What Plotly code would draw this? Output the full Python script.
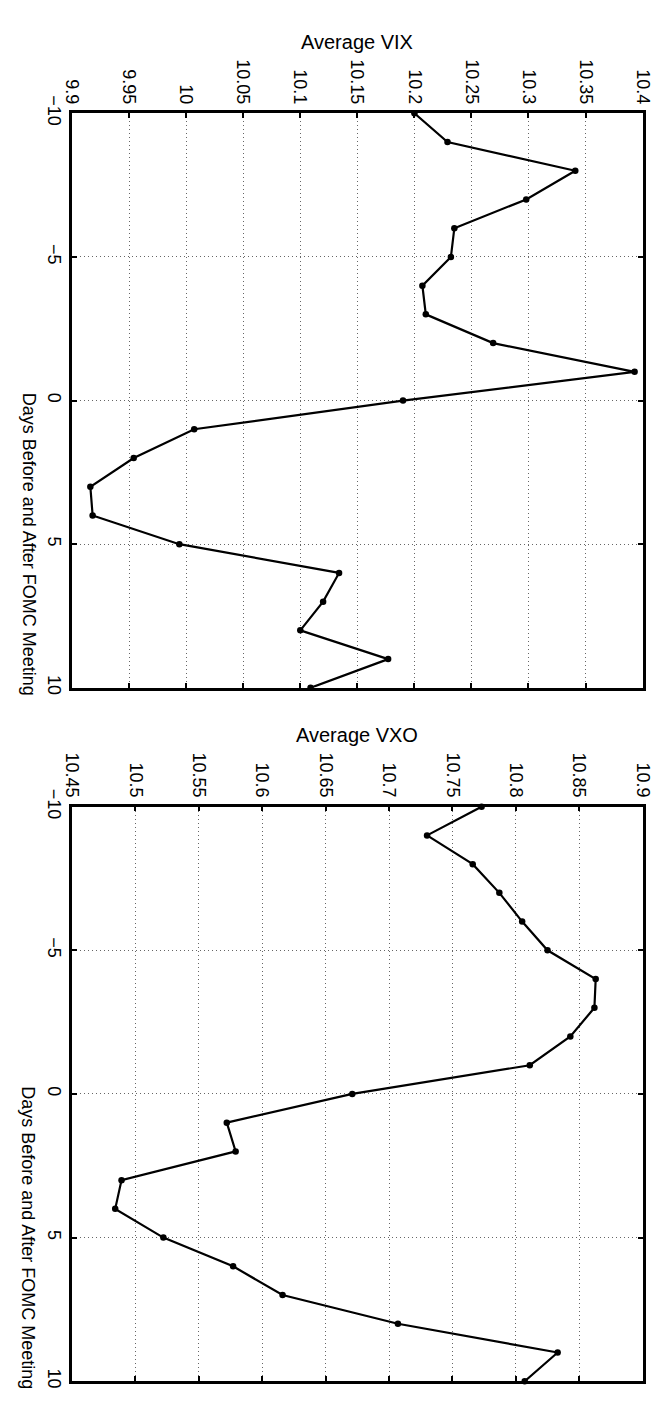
import plotly.graph_objects as go

# ---- data ----
days = list(range(-10, 11))
vix = [10.200, 10.229, 10.341, 10.298, 10.235, 10.232, 10.207, 10.210, 10.269, 10.393,
       10.190, 10.007, 9.954, 9.916, 9.918, 9.994, 10.134, 10.120, 10.100, 10.177, 10.109]
vxo = [10.773, 10.730, 10.766, 10.787, 10.805, 10.825, 10.863, 10.862, 10.843, 10.811,
       10.671, 10.572, 10.579, 10.489, 10.484, 10.522, 10.577, 10.616, 10.707, 10.833, 10.807]

vix_ticks = [9.9, 9.95, 10.0, 10.05, 10.1, 10.15, 10.2, 10.25, 10.3, 10.35, 10.4]
vix_ticktext = ["9.9", "9.95", "10", "10.05", "10.1", "10.15", "10.2", "10.25", "10.3", "10.35", "10.4"]
vxo_ticks = [10.45, 10.5, 10.55, 10.6, 10.65, 10.7, 10.75, 10.8, 10.85, 10.9]
vxo_ticktext = ["10.45", "10.5", "10.55", "10.6", "10.65", "10.7", "10.75", "10.8", "10.85", "10.9"]
day_ticks = [-10, -5, 0, 5, 10]
day_ticktext = ["\u221210", "\u22125", "0", "5", "10"]

titles = ["Average VIX", "Average VXO"]
xlabel = "Days Before and After FOMC Meeting"

# ---- layout (pixels) ----
W, H = 672, 1401
left, right = 64, 652
panels = [(97, 682), (803, 1388)]  # top, bottom in pixels

def px_x(x):
    return x / W

def px_y(y):
    return (H - y) / H

FONT = "Liberation Sans, Arial, Helvetica, sans-serif"
tickfont = dict(family=FONT, size=18, color="black")
GRID = dict(showgrid=True, gridcolor="#666666", griddash="1px,3px", gridwidth=1)

fig = go.Figure()

series = [vix, vxo]
ranges = [[9.9, 10.4], [10.45, 10.9]]
tickvals = [vix_ticks, vxo_ticks]
ticktexts = [vix_ticktext, vxo_ticktext]

for i, (top, bot) in enumerate(panels):
    xa = "x" if i == 0 else f"x{i+1}"
    ya = "y" if i == 0 else f"y{i+1}"
    fig.add_trace(go.Scatter(
        x=series[i], y=days, xaxis=xa, yaxis=ya, mode="lines+markers",
        line=dict(color="black", width=2.2),
        marker=dict(color="black", size=6.5),
        showlegend=False, cliponaxis=False,
    ))
    xkey = "xaxis" if i == 0 else f"xaxis{i+1}"
    ykey = "yaxis" if i == 0 else f"yaxis{i+1}"
    fig.layout[xkey] = dict(
        domain=[px_x(left), px_x(right)], anchor=ya, side="top",
        range=ranges[i], tickvals=tickvals[i], ticktext=ticktexts[i],
        tickangle=90, ticks="inside", ticklen=5, tickwidth=1.5, tickcolor="black",
        showline=True, linecolor="black", linewidth=2.5, mirror="allticks",
        zeroline=False, tickfont=tickfont, fixedrange=True, **GRID,
    )
    fig.layout[ykey] = dict(
        domain=[px_y(bot), px_y(top)], anchor=xa,
        range=[10, -10], tickvals=day_ticks, ticktext=day_ticktext,
        tickangle=90, ticks="inside", ticklen=5, tickwidth=1.5, tickcolor="black",
        showline=True, linecolor="black", linewidth=2.5, mirror="allticks",
        zeroline=False, tickfont=tickfont, fixedrange=True, **GRID,
    )
    fig.add_annotation(
        text=titles[i], xref="paper", yref="paper",
        x=px_x((left + right) / 2), y=px_y(top - 73),
        xanchor="center", yanchor="middle", showarrow=False,
        font=dict(family=FONT, size=20, color="black"),
    )
    fig.add_annotation(
        text=xlabel, xref="paper", yref="paper",
        x=px_x(19), y=px_y(top + 0.75 * (bot - top)),
        xanchor="center", yanchor="middle", showarrow=False, textangle=90,
        font=dict(family=FONT, size=18, color="black"),
    )

fig.update_layout(
    width=W, height=H, margin=dict(l=0, r=0, t=0, b=0),
    paper_bgcolor="white", plot_bgcolor="white",
)

fig.write_html("out.html")
